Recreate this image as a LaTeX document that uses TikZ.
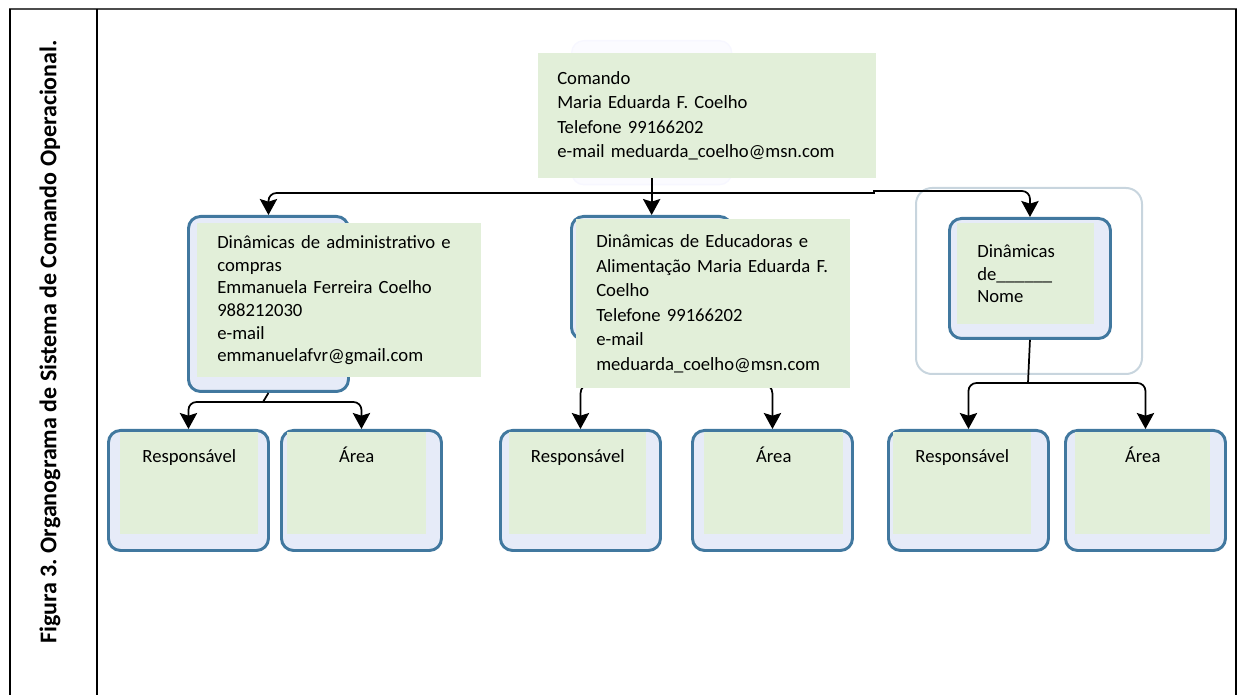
\documentclass[tikz,border=0pt]{standalone}
\usepackage{fontspec}
\setmainfont{Carlito}
\usepackage{tikz}
\usetikzlibrary{arrows.meta,positioning,calc}
\definecolor{notegreen}{HTML}{E2EFD9}
\definecolor{boxblue}{HTML}{41789F}
\definecolor{boxfill}{HTML}{E6EBF8}
\definecolor{framegray}{HTML}{C8D5DE}
\frenchspacing

\begin{document}
\begin{tikzpicture}[x=0.75pt,y=-0.75pt,>={Stealth[length=12pt,width=13pt,inset=2pt]},
  blubox/.style={draw=boxblue,fill=boxfill,line width=2.2pt,rounded corners=9pt,
    anchor=north west,inner sep=0pt,minimum width=120pt,minimum height=90pt},
  ghost/.style={draw=blue!3,fill=blue!1.5,line width=1pt,rounded corners=9pt,
    anchor=north west,inner sep=0pt},
  group/.style={draw=framegray,line width=1.5pt,rounded corners=12pt,
    anchor=north west,inner sep=0pt},
  note/.style={fill=notegreen,anchor=north west,align=left,inner ysep=0pt,
    inner xsep=15pt,font=\fontsize{14}{17}\selectfont},
  tag/.style={fill=notegreen,anchor=north west,align=center,inner sep=0pt,
    font=\fontsize{14}{17}\selectfont,text height=22.5pt,text depth=54pt},
  link/.style={line width=1.3pt}]
\useasboundingbox (0,0) rectangle (1240,695);
% page frame and caption column
\draw[line width=1.8pt,black!70] (9,9) -- (1237,9);
\draw[line width=1.2pt] (10,9) -- (10,695) (97,9) -- (97,695) (1236,9) -- (1236,695);
\node[rotate=90,font=\bfseries\fontsize{18}{18}\selectfont] (titulo) at (50,342)
  {Figura 3. Organograma de Sistema de Comando Operacional.};
% boxes of the chart
\node[ghost,minimum width=120pt,minimum height=108pt] (cmdbg) at (571,40) {};
\node[blubox,minimum height=131.25pt] (admin) at (187,215) {};
\node[blubox,minimum height=92.25pt] (educ) at (570,215) {};
\node[group,minimum width=169.5pt,minimum height=139.5pt] (grupo) at (915,187) {};
\node[blubox,minimum width=120.75pt] (outros) at (948,217) {};
\node[blubox] (resp1) at (107,429) {};
\node[blubox] (area1) at (280,429) {};
\node[blubox] (resp2) at (499,429) {};
\node[blubox] (area2) at (691,429) {};
\node[blubox] (resp3) at (887,429) {};
\node[blubox] (area3) at (1064,429) {};
% connectors: command down to the three areas
\coordinate (bus) at (651,193);
\coordinate (step) at (874,193);
\draw[link,->] (cmdbg.center) -- (cmdbg.center|-educ.north);
\draw[link,->,rounded corners=6pt] (bus) -| (admin.north);
\draw[link,->] (bus) -- (step) -- ++(0,-2) [rounded corners=6pt] -| (outros.north);
% each area down to its two boxes
\coordinate (adminbus) at (263,402);
\coordinate (educbus) at (650,383);
\coordinate (outbus) at (1028,383);
\draw[link] (admin.south) -- (adminbus);
\draw[link,->,rounded corners=6pt] (adminbus) -| (resp1.north);
\draw[link,->,rounded corners=6pt] (adminbus) -| (area1.north);
\draw[link] (educ.south) -- (educbus);
\draw[link,->,rounded corners=8pt] (educbus) -| (resp2.north);
\draw[link,->,rounded corners=8pt] (educbus) -| (area2.north);
\draw[link] (outros.south) -- (outbus);
\draw[link,->,rounded corners=6pt] (outbus) -| (resp3.north);
\draw[link,->,rounded corners=6pt] (outbus) -| (area3.north);
% green text panels on top
\node[note,inner xsep=14.25pt,text width=225pt,minimum height=93.75pt,
  font=\fontsize{14}{18.4}\selectfont] (comando) at (538,53)
  {Comando\\Maria Eduarda F. Coelho\\Telefone 99166202\\e-mail meduarda\_coelho@msn.com};
\node[note,text width=183pt,minimum height=115.5pt] (admintxt) at (197,223)
  {Dinâmicas de administrativo e\\compras\\Emmanuela Ferreira Coelho\\988212030\\e-mail\\emmanuelafvr@gmail.com};
\node[note,text width=175.5pt,minimum height=126.75pt,
  font=\fontsize{14}{18.4}\selectfont] (eductxt) at (576,219)
  {Dinâmicas de Educadoras e\\Alimentação Maria Eduarda F.\\Coelho\\Telefone 99166202\\e-mail\\meduarda\_coelho@msn.com};
\node[note,text width=72.75pt,minimum height=75.75pt] (outrostxt) at (957,223)
  {Dinâmicas\\de\_\_\_\_\_\_\\Nome};
\node[tag,text width=103.5pt] (resp1txt) at (120,432) {Responsável};
\node[tag,text width=104.25pt] (area1txt) at (287,432) {Área};
\node[tag,text width=102.75pt] (resp2txt) at (509,432) {Responsável};
\node[tag,text width=104.25pt] (area2txt) at (704,432) {Área};
\node[tag,text width=103.5pt] (resp3txt) at (893,432) {Responsável};
\node[tag,text width=101.25pt] (area3txt) at (1075,432) {Área};
\end{tikzpicture}
\end{document}
